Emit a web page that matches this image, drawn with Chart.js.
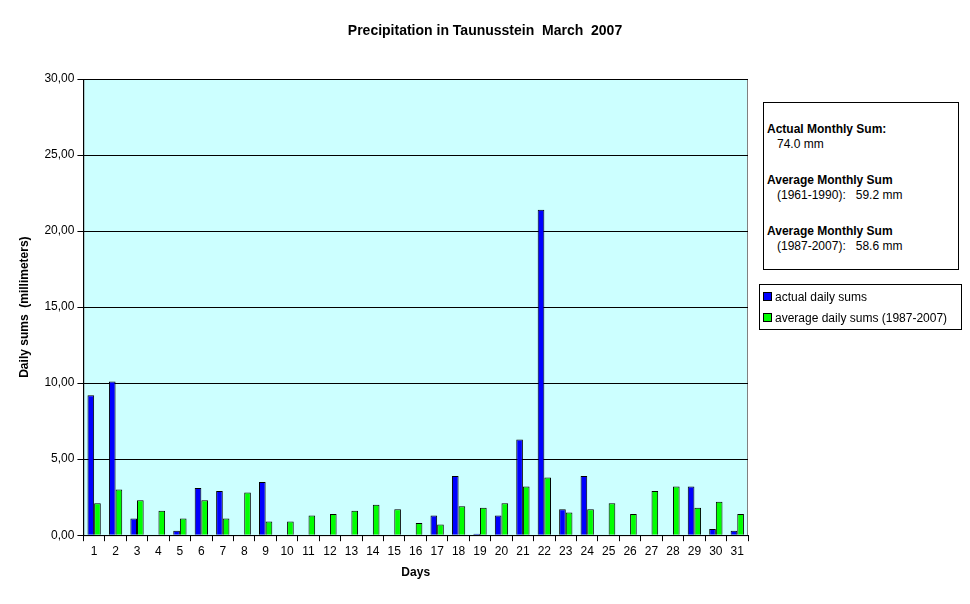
<!DOCTYPE html>
<html><head><meta charset="utf-8">
<script src="https://cdn.jsdelivr.net/npm/chart.js@4/dist/chart.umd.min.js"></script>
<style>
body{margin:0;background:#fff;font-family:"Liberation Sans",Arial,sans-serif}
#wrap{position:relative;width:970px;height:604px}
#title{position:absolute;left:0;top:22px;width:970px;text-align:center;font-size:14px;font-weight:bold}
.box{position:absolute;border:1px solid #000;background:#fff;font-size:12px;color:#000}
#info{left:763px;top:102px;width:194px;height:166px;padding:0}
#info div{position:absolute;left:3px;line-height:15px}
#leg{left:759px;top:284px;width:201px;height:44px}
.li{position:absolute;left:3px;font-size:12px}
.sw{display:inline-block;width:7px;height:7px;border:1px solid #000;margin-right:3px}
</style></head><body>
<div id="wrap">
<canvas id="c" width="970" height="604"></canvas>
<div id="title">Precipitation in Taunusstein&nbsp; March&nbsp; 2007</div>
<div class="box" id="info">
<div style="top:19px"><b>Actual Monthly Sum:</b><br>&nbsp;&nbsp;&nbsp;74.0 mm</div>
<div style="top:70px"><b>Average Monthly Sum</b><br>&nbsp;&nbsp;&nbsp;(1961-1990):&nbsp;&nbsp;&nbsp;59.2 mm</div>
<div style="top:121px"><b>Average Monthly Sum</b><br>&nbsp;&nbsp;&nbsp;(1987-2007):&nbsp;&nbsp;&nbsp;58.6 mm</div>
</div>
<div class="box" id="leg">
<div class="li" style="top:5px"><span class="sw" style="background:#0000FF"></span>actual daily sums</div>
<div class="li" style="top:26px"><span class="sw" style="background:#00FF00"></span>average daily sums (1987-2007)</div>
</div>
</div>
<script>
const days = ['1','2','3','4','5','6','7','8','9','10','11','12','13','14','15','16','17','18','19','20','21','22','23','24','25','26','27','28','29','30','31'];
const actual = [9.2,10.1,1.1,0,0.3,3.1,2.9,0,3.5,0,0,0,0,0,0,0,1.3,3.9,0.1,1.3,6.3,21.4,1.7,3.9,0,0,0,0,3.2,0.4,0.3];
const average = [2.1,3.0,2.3,1.6,1.1,2.3,1.1,2.8,0.9,0.9,1.3,1.4,1.6,2.0,1.7,0.8,0.7,1.9,1.8,2.1,3.2,3.8,1.5,1.7,2.1,1.4,2.9,3.2,1.8,2.2,1.4];

const bg = {
  id:'bg',
  beforeDraw(ch){
    const a = ch.chartArea, x = ch.ctx;
    x.save(); x.fillStyle = '#CCFFFF';
    x.fillRect(a.left, a.top, a.right-a.left, a.bottom-a.top);
    x.strokeStyle = '#808080'; x.lineWidth = 1;
    x.strokeRect(a.left+0.5, a.top+0.5, a.right-a.left-1, a.bottom-a.top);
    x.restore();
  }
};
const font = {family:'"Liberation Sans", Arial, sans-serif', size:12};
new Chart(document.getElementById('c'), {
  type:'bar',
  data:{labels:days, datasets:[
    {label:'actual daily sums', data:actual, backgroundColor:'#0000FF', borderColor:'#000', borderWidth:1, barPercentage:1, categoryPercentage:0.62},
    {label:'average daily sums (1987-2007)', data:average, backgroundColor:'#00FF00', borderColor:'#000', borderWidth:1, barPercentage:1, categoryPercentage:0.62}
  ]},
  plugins:[bg],
  options:{
    responsive:false, animation:false,
    layout:{padding:{left:13, right:222, top:79, bottom:20}},
    plugins:{legend:{display:false}, tooltip:{enabled:false}, title:{display:false}},
    scales:{
      x:{
        grid:{offset:true, drawOnChartArea:false, color:'#000', tickLength:6},
        border:{color:'#000'},
        ticks:{color:'#000', font, maxRotation:0, autoSkip:false},
        title:{display:true, text:'Days', color:'#000', font:{...font, weight:'bold'}, padding:{top:4}}
      },
      y:{
        min:0, max:30,
        grid:{color:'#000', tickLength:6},
        border:{color:'#000'},
        ticks:{stepSize:5, color:'#000', font, callback:v=>v.toFixed(2).replace('.',',')},
        title:{display:true, text:'Daily sums  (millimeters)', color:'#000', font:{...font, weight:'bold'}, padding:{bottom:10}}
      }
    }
  }
});
</script>
</body></html>
